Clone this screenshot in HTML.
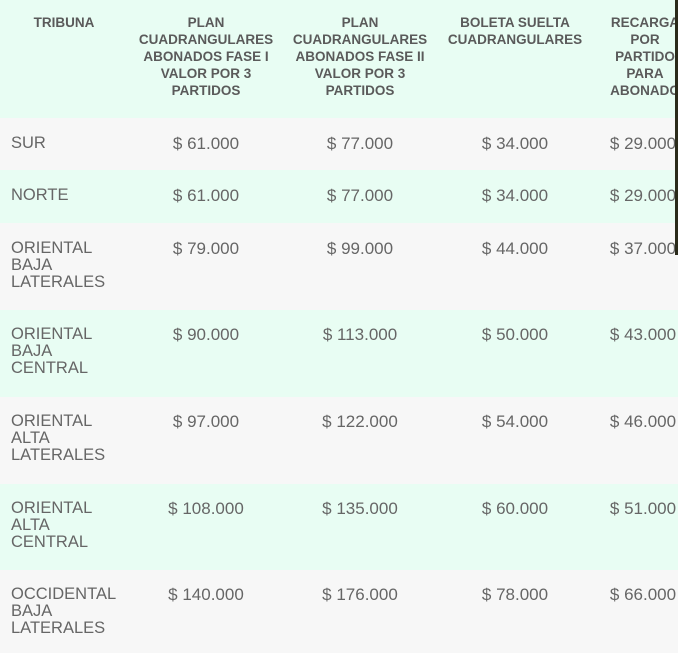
<!DOCTYPE html>
<html><head><meta charset="utf-8"><style>
body{margin:0;width:678px;height:653px;overflow:hidden;background:#f7f7f7;font-family:"Liberation Sans",sans-serif;color:#666;position:relative}
.r{position:absolute;left:0;width:678px}
.m{background:#e8fdf3}
.g{background:#f7f7f7}
.h{position:absolute;top:14px;font-size:13.5px;font-weight:bold;line-height:17px;text-align:center;color:#5a5a5a;width:160px;margin-left:-80px}
.c{position:absolute;font-size:16.5px;line-height:17px;white-space:nowrap}
.v{position:absolute;font-size:17px;line-height:17px;white-space:nowrap;width:150px;margin-left:-75px;text-align:center}
</style></head><body>
<div class="r m" style="top:0;height:118px"></div>
<div class="r g" style="top:118px;height:52px"></div>
<div class="r m" style="top:170px;height:53px"></div>
<div class="r g" style="top:223px;height:87px"></div>
<div class="r m" style="top:310px;height:87px"></div>
<div class="r g" style="top:397px;height:87px"></div>
<div class="r m" style="top:484px;height:86px"></div>
<div class="r g" style="top:570px;height:83px"></div>

<div class="h" style="left:64px">TRIBUNA</div>
<div class="h" style="left:206px">PLAN<br>CUADRANGULARES<br>ABONADOS FASE I<br>VALOR POR 3<br>PARTIDOS</div>
<div class="h" style="left:360px">PLAN<br>CUADRANGULARES<br>ABONADOS FASE II<br>VALOR POR 3<br>PARTIDOS</div>
<div class="h" style="left:515px">BOLETA SUELTA<br>CUADRANGULARES</div>
<div class="h" style="left:645px">RECARGA<br>POR<br>PARTIDO<br>PARA<br>ABONADO</div>

<div class="c" style="left:11px;top:135px">SUR</div>
<div class="v" style="left:206px;top:135px">$ 61.000</div><div class="v" style="left:360px;top:135px">$ 77.000</div><div class="v" style="left:515px;top:135px">$ 34.000</div><div class="v" style="left:643px;top:135px">$ 29.000</div>

<div class="c" style="left:11px;top:187px">NORTE</div>
<div class="v" style="left:206px;top:187px">$ 61.000</div><div class="v" style="left:360px;top:187px">$ 77.000</div><div class="v" style="left:515px;top:187px">$ 34.000</div><div class="v" style="left:643px;top:187px">$ 29.000</div>

<div class="c" style="left:11px;top:240px">ORIENTAL<br>BAJA<br>LATERALES</div>
<div class="v" style="left:206px;top:240px">$ 79.000</div><div class="v" style="left:360px;top:240px">$ 99.000</div><div class="v" style="left:515px;top:240px">$ 44.000</div><div class="v" style="left:643px;top:240px">$ 37.000</div>

<div class="c" style="left:11px;top:326px">ORIENTAL<br>BAJA<br>CENTRAL</div>
<div class="v" style="left:206px;top:326px">$ 90.000</div><div class="v" style="left:360px;top:326px">$ 113.000</div><div class="v" style="left:515px;top:326px">$ 50.000</div><div class="v" style="left:643px;top:326px">$ 43.000</div>

<div class="c" style="left:11px;top:413px">ORIENTAL<br>ALTA<br>LATERALES</div>
<div class="v" style="left:206px;top:413px">$ 97.000</div><div class="v" style="left:360px;top:413px">$ 122.000</div><div class="v" style="left:515px;top:413px">$ 54.000</div><div class="v" style="left:643px;top:413px">$ 46.000</div>

<div class="c" style="left:11px;top:500px">ORIENTAL<br>ALTA<br>CENTRAL</div>
<div class="v" style="left:206px;top:500px">$ 108.000</div><div class="v" style="left:360px;top:500px">$ 135.000</div><div class="v" style="left:515px;top:500px">$ 60.000</div><div class="v" style="left:643px;top:500px">$ 51.000</div>

<div class="c" style="left:11px;top:586px">OCCIDENTAL<br>BAJA<br>LATERALES</div>
<div class="v" style="left:206px;top:586px">$ 140.000</div><div class="v" style="left:360px;top:586px">$ 176.000</div><div class="v" style="left:515px;top:586px">$ 78.000</div><div class="v" style="left:643px;top:586px">$ 66.000</div>

<div style="position:absolute;left:675px;top:0;width:3px;height:255px;background:#2a2a1a"></div>
</body></html>
